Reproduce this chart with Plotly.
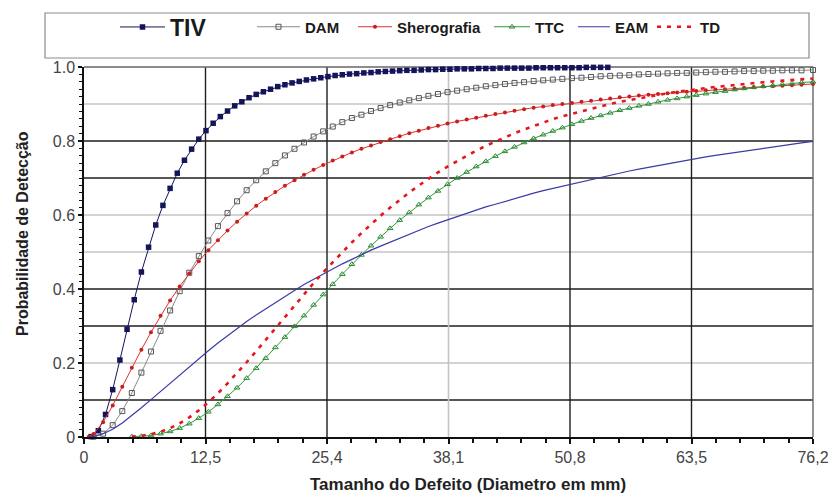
import plotly.graph_objects as go

# ---------------- data ----------------
tiv_x = [round(0.75 * k, 2) for k in range(1, 74)]
tiv_y = [0.001, 0.017, 0.061, 0.128, 0.208, 0.291, 0.371, 0.446, 0.513, 0.573,
         0.626, 0.672, 0.713, 0.748, 0.778, 0.805, 0.828, 0.848, 0.866, 0.881,
         0.895, 0.906, 0.917, 0.926, 0.933, 0.940, 0.947, 0.952, 0.957, 0.961,
         0.965, 0.968, 0.971, 0.974, 0.977, 0.979, 0.981, 0.982, 0.984, 0.985,
         0.987, 0.988, 0.989, 0.990, 0.991, 0.991, 0.992, 0.993, 0.993, 0.994,
         0.994, 0.995, 0.995, 0.995, 0.996, 0.996, 0.996, 0.997, 0.997, 0.997,
         0.997, 0.997, 0.998, 0.998, 0.998, 0.998, 0.998, 0.998, 0.998, 0.999,
         0.999, 0.999, 0.999]

grid_x = [float(v) for v in range(1, 76)] + [76.2]

dam_x = grid_x
dam_y = [0.001, 0.009, 0.032, 0.070, 0.119, 0.174, 0.231, 0.287, 0.342, 0.394,
         0.444, 0.489, 0.531, 0.570, 0.605, 0.637, 0.667, 0.694, 0.718, 0.740,
         0.761, 0.779, 0.796, 0.812, 0.826, 0.839, 0.851, 0.862, 0.871, 0.881,
         0.889, 0.897, 0.904, 0.910, 0.916, 0.922, 0.927, 0.932, 0.936, 0.940,
         0.944, 0.948, 0.951, 0.954, 0.957, 0.959, 0.962, 0.964, 0.966, 0.968,
         0.970, 0.971, 0.973, 0.975, 0.976, 0.977, 0.978, 0.980, 0.981, 0.982,
         0.983, 0.984, 0.984, 0.985, 0.986, 0.987, 0.987, 0.988, 0.989, 0.989,
         0.990, 0.990, 0.991, 0.991, 0.991, 0.992]

sher_x = [0.5] + grid_x
sher_y = [0.001,
          0.008, 0.040, 0.085, 0.136, 0.187, 0.236, 0.283, 0.328, 0.369, 0.407,
          0.442, 0.475, 0.505, 0.532, 0.558, 0.582, 0.604, 0.625, 0.644, 0.662,
          0.679, 0.694, 0.709, 0.722, 0.735, 0.747, 0.758, 0.769, 0.779, 0.788,
          0.797, 0.805, 0.813, 0.821, 0.828, 0.835, 0.841, 0.847, 0.853, 0.858,
          0.863, 0.868, 0.873, 0.877, 0.882, 0.886, 0.890, 0.893, 0.897, 0.900,
          0.903, 0.906, 0.909, 0.912, 0.915, 0.918, 0.920, 0.923, 0.925, 0.927,
          0.929, 0.931, 0.933, 0.935, 0.937, 0.939, 0.940, 0.942, 0.944, 0.945,
          0.947, 0.948, 0.949, 0.951, 0.952, 0.954]

ttc_x = grid_x[4:]
ttc_y = [0.001, 0.002, 0.004, 0.009, 0.015, 0.024,
         0.036, 0.051, 0.068, 0.088, 0.110, 0.133, 0.159, 0.186, 0.213, 0.242,
         0.270, 0.299, 0.328, 0.357, 0.385, 0.413, 0.440, 0.467, 0.492, 0.517,
         0.541, 0.564, 0.586, 0.607, 0.628, 0.647, 0.665, 0.683, 0.700, 0.716,
         0.731, 0.745, 0.759, 0.772, 0.784, 0.796, 0.807, 0.817, 0.827, 0.836,
         0.845, 0.854, 0.862, 0.869, 0.876, 0.883, 0.889, 0.895, 0.900, 0.906,
         0.911, 0.915, 0.920, 0.924, 0.928, 0.932, 0.935, 0.939, 0.942, 0.945,
         0.948, 0.950, 0.953, 0.955, 0.958, 0.960]

eam_x = [0.5] + grid_x
eam_y = [0.000,
         0.001, 0.009, 0.021, 0.038, 0.058, 0.079, 0.101, 0.123, 0.146, 0.168,
         0.191, 0.212, 0.233, 0.254, 0.274, 0.293, 0.312, 0.330, 0.347, 0.364,
         0.381, 0.396, 0.412, 0.426, 0.441, 0.454, 0.468, 0.480, 0.493, 0.505,
         0.516, 0.527, 0.538, 0.549, 0.559, 0.569, 0.578, 0.587, 0.596, 0.605,
         0.613, 0.622, 0.629, 0.637, 0.645, 0.652, 0.659, 0.666, 0.672, 0.679,
         0.685, 0.691, 0.697, 0.703, 0.708, 0.714, 0.719, 0.724, 0.729, 0.734,
         0.739, 0.744, 0.748, 0.752, 0.757, 0.761, 0.765, 0.769, 0.773, 0.777,
         0.781, 0.784, 0.788, 0.791, 0.795, 0.799]

td_x = grid_x[4:]
td_y = [0.001, 0.003, 0.008, 0.014, 0.024, 0.037,
        0.053, 0.072, 0.094, 0.118, 0.145, 0.173, 0.202, 0.232, 0.263, 0.294,
        0.325, 0.356, 0.386, 0.416, 0.445, 0.473, 0.500, 0.526, 0.551, 0.575,
        0.598, 0.620, 0.641, 0.661, 0.680, 0.698, 0.715, 0.731, 0.746, 0.761,
        0.774, 0.787, 0.799, 0.811, 0.821, 0.831, 0.841, 0.850, 0.859, 0.867,
        0.874, 0.881, 0.888, 0.894, 0.900, 0.906, 0.911, 0.916, 0.920, 0.925,
        0.929, 0.933, 0.937, 0.940, 0.943, 0.946, 0.949, 0.952, 0.955, 0.957,
        0.959, 0.961, 0.963, 0.965, 0.967, 0.969]

x_tickvals = [0, 12.7, 25.4, 38.1, 50.8, 63.5, 76.2]
x_ticktext = ["0", "12,5", "25,4", "38,1", "50,8", "63,5", "76,2"]
y_tickvals = [0, 0.2, 0.4, 0.6, 0.8, 1.0]
y_ticktext = ["0", "0.2", "0.4", "0.6", "0.8", "1.0"]

grid_y_dark = [0.1, 0.3, 0.4, 0.7, 0.8]
grid_y_light = [0.2, 0.5, 0.6, 0.9]
grid_x_dark = [12.7, 25.4, 50.8, 63.5]
grid_x_light = [38.1]

x_title = "Tamanho do Defeito (Diametro em mm)"
y_title = "Probabilidade de Detecção"

# ---------------- layout helpers ----------------
FONT = "Liberation Sans, Arial, sans-serif"
W, H = 833, 497
L, T, R, B = 84, 67, 20, 60
PW, PH = W - L - R, H - T - B


def px_x(p):  # pixel -> paper x
    return (p - L) / PW


def px_y(p):  # pixel -> paper y
    return 1 + (T - p) / PH


fig = go.Figure()

fig.add_trace(go.Scatter(
    x=tiv_x, y=tiv_y, name="TIV", mode="lines+markers", legend="legend",
    line=dict(color="#14145a", width=1),
    marker=dict(symbol="square", size=5.5, color="#14145a"), cliponaxis=False))
fig.add_trace(go.Scatter(
    x=dam_x, y=dam_y, name="DAM", mode="lines+markers", legend="legend2",
    line=dict(color="#8a8a8a", width=1),
    marker=dict(symbol="square-open", size=5, color="#555555", line=dict(width=1)),
    cliponaxis=False))
fig.add_trace(go.Scatter(
    x=sher_x, y=sher_y, name="Sherografia", mode="lines+markers", legend="legend3",
    line=dict(color="#e03030", width=1),
    marker=dict(symbol="circle", size=4, color="#c81e1e"), cliponaxis=False))
fig.add_trace(go.Scatter(
    x=ttc_x, y=ttc_y, name="TTC", mode="lines+markers", legend="legend4",
    line=dict(color="#2e9a3a", width=1),
    marker=dict(symbol="triangle-up-open", size=5, color="#2e8a35", line=dict(width=1)),
    cliponaxis=False))
fig.add_trace(go.Scatter(
    x=eam_x, y=eam_y, name="EAM", mode="lines", legend="legend5",
    line=dict(color="#3a3aa8", width=1.2), cliponaxis=False))
fig.add_trace(go.Scatter(
    x=td_x, y=td_y, name="TD", mode="lines", legend="legend6",
    line=dict(color="#e8141e", width=2.6, dash="4px,6px"), cliponaxis=False))

shapes = []
for v in grid_y_light:
    shapes.append(dict(type="line", xref="paper", x0=0, x1=1, yref="y", y0=v, y1=v,
                       line=dict(color="#c4c4c4", width=1.6), layer="below"))
for v in grid_y_dark:
    shapes.append(dict(type="line", xref="paper", x0=0, x1=1, yref="y", y0=v, y1=v,
                       line=dict(color="#1e1e1e", width=1.4), layer="below"))
for v in grid_x_light:
    shapes.append(dict(type="line", yref="paper", y0=0, y1=1, xref="x", x0=v, x1=v,
                       line=dict(color="#c4c4c4", width=1.6), layer="below"))
for v in grid_x_dark:
    shapes.append(dict(type="line", yref="paper", y0=0, y1=1, xref="x", x0=v, x1=v,
                       line=dict(color="#1e1e1e", width=1.4), layer="below"))
# plot frame (top and right)
shapes.append(dict(type="line", xref="paper", x0=0, x1=1, yref="paper", y0=1, y1=1,
                   line=dict(color="#666666", width=1.4), layer="below"))
shapes.append(dict(type="line", xref="paper", x0=1, x1=1, yref="paper", y0=0, y1=1,
                   line=dict(color="#666666", width=1.4), layer="below"))
# legend box
shapes.append(dict(type="rect", xref="paper", yref="paper",
                   x0=px_x(45), x1=px_x(809), y0=px_y(58), y1=px_y(13),
                   line=dict(color="#8c8c8c", width=1.2), fillcolor="rgba(0,0,0,0)"))

leg_common = dict(orientation="h", bgcolor="rgba(0,0,0,0)", borderwidth=0,
                  xanchor="left", yanchor="middle", y=px_y(27))
small = dict(family=FONT, size=15, color="#1a1a1a", weight="bold")

annotations = [
    dict(text=f"<b>{x_title}</b>", xref="paper", yref="paper", x=px_x(468), y=px_y(484),
         xanchor="center", yanchor="middle", showarrow=False,
         font=dict(family=FONT, size=17, color="#222222")),
    dict(text=f"<b>{y_title}</b>", xref="paper", yref="paper", x=px_x(22), y=px_y(234),
         xanchor="center", yanchor="middle", showarrow=False, textangle=-90,
         font=dict(family=FONT, size=16, color="#222222")),
]

fig.update_layout(
    width=W, height=H, showlegend=True,
    margin=dict(l=L, r=R, t=T, b=B, autoexpand=False),
    paper_bgcolor="white", plot_bgcolor="white",
    shapes=shapes, annotations=annotations,
    font=dict(family=FONT, size=12, color="#333333"),
    legend=dict(**leg_common, x=px_x(115), itemwidth=45,
                font=dict(family=FONT, size=23, color="#1a1a1a", weight="bold")),
    legend2=dict(**leg_common, x=px_x(252), itemwidth=43, font=small),
    legend3=dict(**leg_common, x=px_x(353), itemwidth=34, font=small),
    legend4=dict(**leg_common, x=px_x(489), itemwidth=36, font=small),
    legend5=dict(**leg_common, x=px_x(573), itemwidth=32, font=small),
    legend6=dict(**leg_common, x=px_x(652), itemwidth=38, font=small),
    xaxis=dict(range=[0, 76.2], tickmode="array", tickvals=x_tickvals, ticktext=x_ticktext,
               showgrid=False, zeroline=False, showline=True, linecolor="#111111", linewidth=1.5,
               ticks="outside", ticklen=5, tickwidth=1.5, tickcolor="#111111",
               ticklabeloverflow="allow",
               tickfont=dict(family=FONT, size=16, color="#444444"),
               minor=dict(tick0=0, dtick=2.54, ticks="outside", ticklen=4, tickwidth=1.5,
                          tickcolor="#111111", showgrid=False)),
    yaxis=dict(range=[0, 1.0], tickmode="array", tickvals=y_tickvals, ticktext=y_ticktext,
               showgrid=False, zeroline=False, showline=True, linecolor="#111111", linewidth=1.5,
               ticks="outside", ticklen=4, tickwidth=1.5, tickcolor="#111111",
               tickfont=dict(family=FONT, size=16, color="#444444"),
               minor=dict(tick0=0, dtick=0.02, ticks="outside", ticklen=3, tickwidth=1.2,
                          tickcolor="#111111", showgrid=False)),
)

# remove the browser's default 8px page margin so the figure fills the window
fig.write_html("out.html",
               config={"displayModeBar": False},
               post_script="document.body.style.margin='0px';document.body.style.overflow='hidden';")
